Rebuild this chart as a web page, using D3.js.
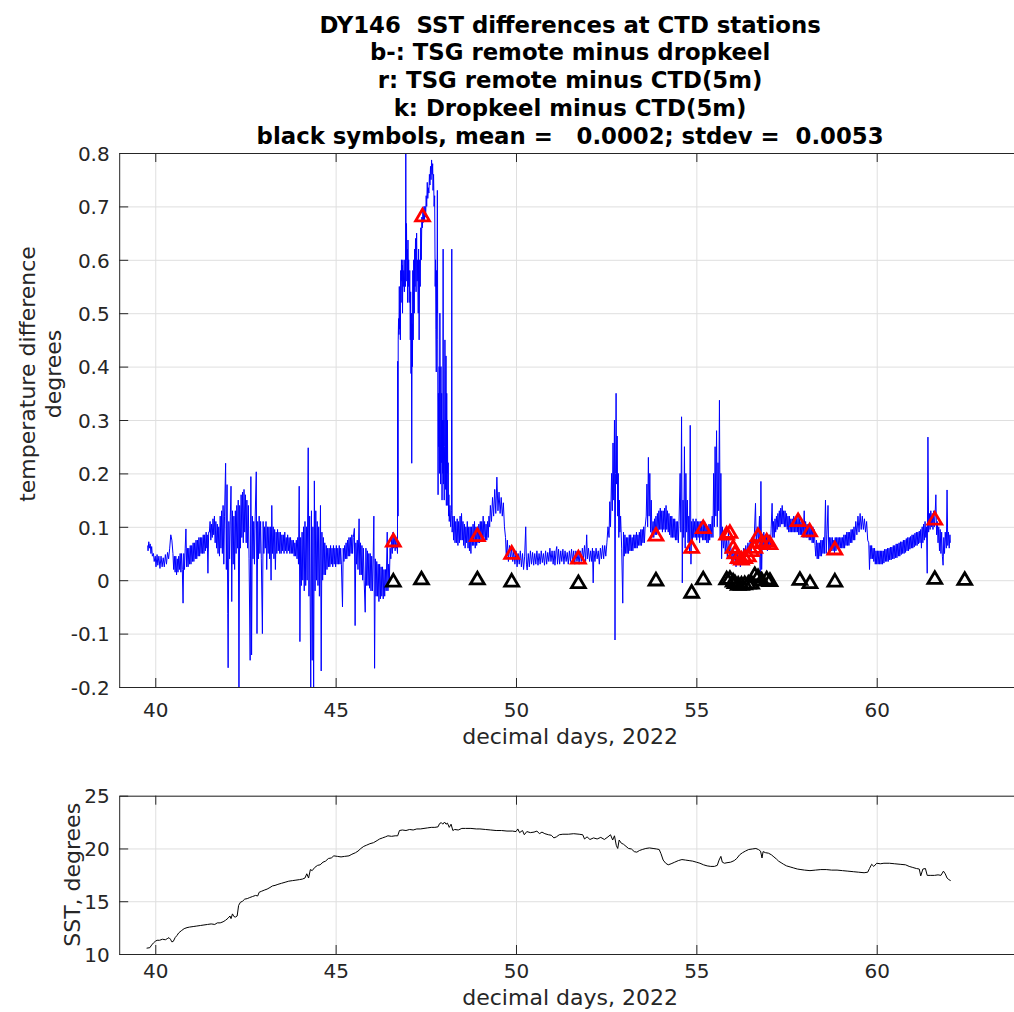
<!DOCTYPE html>
<html>
<head>
<meta charset="utf-8">
<script src="https://cdn.jsdelivr.net/npm/d3@7/dist/d3.min.js"></script>
<style>
  html, body { margin: 0; padding: 0; background: #fff; }
  svg { display: block; font-family: "DejaVu Sans", sans-serif; }
  text { white-space: pre; }
</style>
</head>
<body>
<svg id="chart" width="1014" height="1012"></svg>
<script>
// ---------------- DATA ----------------
const titleLines = [
  "DY146  SST differences at CTD stations",
  "b-: TSG remote minus dropkeel",
  "r: TSG remote minus CTD(5m)",
  "k: Dropkeel minus CTD(5m)",
  "black symbols, mean =   0.0002; stdev =  0.0053"
];
const xLabel = "decimal days, 2022";
const topYLabel = ["temperature difference", "degrees"];
const botYLabel = "SST, degrees";

const dayTicks = [40, 45, 50, 55, 60];
const diffTicks = [-0.2, -0.1, 0, 0.1, 0.2, 0.3, 0.4, 0.5, 0.6, 0.7, 0.8];
const sstTicks = [10, 15, 20, 25];

// b-: TSG remote minus dropkeel  [day, difference]
const tsgMinusDropkeel = [
[39.79,0.065],[39.80,0.055],[39.82,0.072],[39.84,0.06],[39.86,0.068],[39.88,0.05],[39.90,0.063],[39.92,0.045],[39.95,0.05],[39.97,0.035],
[40.00,0.045],[40.02,0.025],[40.05,0.048],[40.07,0.028],[40.10,0.045],[40.13,0.022],[40.16,0.045],[40.19,0.025],[40.22,0.042],[40.25,0.025],
[40.28,0.048],[40.31,0.03],[40.34,0.052],[40.37,0.04],[40.40,0.06],[40.43,0.085],[40.46,0.075],[40.49,0.05],
[40.51,0.02],[40.53,0.045],[40.55,0.015],[40.57,0.045],[40.59,0.01],[40.61,0.04],[40.63,0.015],[40.65,0.045],[40.67,0.02],[40.69,0.05],
[40.71,0.015],[40.73,0.05],[40.75,0.02],[40.77,-0.043],[40.79,0.05],[40.81,0.02],[40.83,0.06],[40.85,0.096],[40.87,0.025],[40.89,0.06],
[40.91,0.025],[40.93,0.06],[40.95,0.03],[40.97,0.065],[40.99,0.03],[41.01,0.065],[41.03,0.035],[41.05,0.07],[41.07,0.035],[41.09,0.07],
[41.11,0.04],[41.13,0.075],[41.15,0.04],[41.17,0.075],[41.19,0.045],[41.21,0.08],[41.23,0.045],[41.25,0.08],[41.27,0.05],[41.29,0.08],
[41.31,0.05],[41.33,0.085],[41.35,0.05],[41.37,0.085],[41.39,0.055],[41.41,0.09],[41.43,0.06],[41.44,0.085],[41.46,0.013],[41.48,0.09],
[41.50,0.09],[41.52,0.11],[41.54,0.075],[41.56,0.105],[41.58,0.08],[41.60,0.115],[41.62,0.085],[41.64,0.12],[41.66,0.07],[41.68,0.11],
[41.70,0.06],[41.72,0.105],[41.74,0.05],[41.76,0.10],[41.78,0.045],[41.80,0.12],[41.82,0.06],[41.84,0.13],[41.86,0.05],[41.88,0.14],
[41.90,0.03],[41.92,0.12],[41.95,0.219],[41.97,0.02],[41.99,0.179],[42.01,-0.062],[42.02,-0.164],[42.04,0.11],[42.06,0.04],[42.08,0.12],
[42.10,0.176],[42.12,-0.04],[42.14,0.13],[42.16,0.03],[42.18,0.12],[42.20,0.02],[42.22,0.13],[42.24,0.05],[42.26,0.14],[42.28,0.06],
[42.30,0.15],[42.32,-0.2],[42.34,0.14],[42.36,0.06],[42.38,0.16],[42.40,0.08],[42.42,0.165],[42.44,0.07],[42.46,0.17],[42.48,0.09],
[42.50,0.16],[42.52,0.07],[42.54,0.15],[42.56,0.06],[42.58,0.14],[42.60,0.04],[42.63,-0.15],[42.65,0.194],[42.67,-0.14],[42.69,0.12],
[42.71,0.04],[42.73,0.11],[42.75,0.03],[42.77,0.12],[42.80,0.203],[42.82,-0.10],[42.84,0.11],[42.86,0.04],[42.88,0.12],[42.90,0.05],
[42.92,0.11],[42.94,0.04],[42.97,-0.10],[42.99,0.11],[43.01,0.05],[43.03,0.10],[43.05,0.06],[43.07,0.11],[43.09,0.02],[43.11,0.10],
[43.13,0.05],[43.15,0.10],[43.17,0.04],[43.19,0.10],[43.21,0.0],[43.23,0.14],[43.25,0.05],[43.27,0.10],[43.29,0.04],[43.31,0.095],
[43.33,0.02],[43.35,0.09],[43.37,0.05],[43.39,0.095],[43.41,0.055],[43.43,0.09],[43.45,0.05],[43.47,0.09],[43.49,0.05],[43.51,0.085],
[43.53,0.055],[43.55,0.085],[43.57,0.05],[43.59,0.09],[43.61,0.055],[43.63,0.08],[43.65,0.05],[43.67,0.085],[43.69,0.055],[43.71,0.08],
[43.73,0.05],[43.75,0.08],[43.77,0.05],[43.79,0.075],[43.81,0.05],[43.83,0.075],[43.85,0.045],[43.87,0.07],[43.89,0.045],[43.91,0.075],
[43.93,0.04],[43.95,0.08],[43.97,0.03],[43.99,0.176],[44.01,-0.115],[44.03,0.08],[44.05,-0.01],[44.07,0.09],[44.09,0.0],[44.11,0.10],
[44.13,-0.02],[44.15,0.11],[44.17,-0.01],[44.19,0.10],[44.21,0.0],[44.24,0.248],[44.26,-0.03],[44.28,0.12],[44.31,-0.2],[44.33,0.13],
[44.35,-0.15],[44.37,0.10],[44.39,-0.2],[44.41,0.186],[44.43,-0.02],[44.45,0.13],[44.47,0.0],[44.49,0.11],[44.51,-0.01],[44.53,0.10],
[44.55,-0.03],[44.58,0.14],[44.60,-0.17],[44.62,0.09],[44.64,0.0],[44.66,0.08],[44.68,0.01],[44.70,0.07],[44.72,0.01],[44.74,0.065],
[44.76,0.02],[44.78,0.06],[44.80,0.025],[44.82,0.06],[44.84,0.025],[44.86,0.065],[44.88,0.03],[44.90,0.06],[44.92,0.025],[44.94,0.065],
[44.96,0.03],[44.98,0.06],[45.00,0.025],[45.02,0.065],[45.04,0.03],[45.06,0.06],[45.08,0.03],[45.10,0.065],[45.12,0.03],[45.14,0.06],
[45.16,0.03],[45.19,-0.05],[45.21,0.06],[45.23,0.035],[45.25,0.065],[45.27,0.04],[45.29,0.07],[45.31,0.04],[45.33,0.075],[45.35,0.045],
[45.37,0.08],[45.39,0.045],[45.41,0.08],[45.43,0.05],[45.45,0.085],[45.47,0.05],[45.49,0.08],[45.52,0.097],[45.54,-0.085],[45.56,0.07],
[45.58,0.03],[45.60,0.075],[45.62,0.02],[45.65,0.115],[45.67,0.01],[45.69,0.07],[45.71,0.01],[45.73,0.065],[45.75,0.0],[45.77,0.06],
[45.79,0.0],[45.82,-0.06],[45.84,0.06],[45.86,-0.01],[45.88,0.055],[45.90,-0.01],[45.92,0.05],[45.94,-0.015],[45.96,0.05],[45.98,-0.02],
[46.00,0.045],[46.02,-0.02],[46.04,0.04],[46.06,0.12],[46.08,-0.165],[46.10,0.04],[46.12,-0.03],[46.14,0.035],[46.16,-0.03],[46.18,0.03],
[46.20,-0.04],[46.22,0.03],[46.24,-0.035],[46.26,0.025],[46.28,-0.03],[46.30,0.025],[46.32,-0.035],[46.34,0.02],[46.36,-0.03],[46.38,0.02],
[46.40,-0.02],[46.43,0.09],[46.45,-0.02],[46.47,0.03],[46.49,0.0],[46.51,0.06],[46.53,0.04],[46.55,0.08],[46.57,0.05],[46.59,0.09],
[46.61,0.06],[46.63,0.085],[46.65,0.055],[46.67,0.08],[46.69,0.06],[46.70,0.065],[46.715,0.05],
[46.72,0.41],[46.73,0.12],[46.735,0.45],[46.745,0.49],[46.755,0.46],[46.765,0.55],[46.775,0.47],[46.785,0.50],[46.795,0.45],[46.805,0.58],
[46.815,0.52],[46.825,0.60],[46.835,0.56],[46.845,0.59],[46.855,0.50],[46.865,0.60],[46.875,0.55],[46.89,0.58],[46.905,0.54],[46.92,0.60],
[46.935,0.55],[46.945,0.802],[46.955,0.60],[46.965,0.668],[46.975,0.56],[46.985,0.62],[46.995,0.52],[47.005,0.637],[47.015,0.55],[47.025,0.60],
[47.04,0.52],[47.055,0.58],[47.07,0.45],[47.08,0.54],[47.09,0.387],[47.10,0.50],[47.11,0.219],[47.12,0.48],[47.13,0.40],[47.14,0.58],
[47.15,0.45],[47.165,0.60],[47.18,0.50],[47.19,0.62],[47.20,0.55],[47.215,0.64],[47.23,0.54],[47.245,0.65],[47.26,0.56],[47.275,0.60],
[47.29,0.50],[47.30,0.62],[47.315,0.45],[47.33,0.60],[47.345,0.55],[47.36,0.66],[47.375,0.60],[47.39,0.68],[47.405,0.66],[47.42,0.69],
[47.435,0.67],[47.45,0.70],[47.465,0.675],[47.48,0.70],[47.495,0.68],[47.51,0.72],[47.525,0.70],[47.54,0.745],[47.555,0.715],[47.57,0.735],
[47.585,0.725],[47.60,0.76],[47.615,0.74],[47.63,0.775],[47.645,0.75],[47.66,0.787],[47.675,0.76],[47.69,0.78],[47.70,0.73],[47.715,0.76],
[47.73,0.70],[47.745,0.72],[47.76,0.55],[47.77,0.60],[47.78,0.47],[47.79,0.39],[47.80,0.58],[47.81,0.50],[47.82,0.73],[47.83,0.45],
[47.84,0.16],[47.85,0.35],[47.86,0.25],[47.87,0.40],[47.88,0.20],[47.89,0.50],[47.90,0.30],[47.91,0.18],[47.92,0.40],[47.93,0.22],
[47.94,0.35],[47.95,0.15],[47.96,0.30],[47.97,0.20],[47.98,0.62],[47.99,0.18],[48.00,0.30],[48.01,0.15],[48.02,0.25],[48.03,0.45],
[48.04,0.30],[48.05,0.17],[48.06,0.42],[48.07,0.14],[48.08,0.35],[48.09,0.20],[48.10,0.30],[48.11,0.14],[48.12,0.22],[48.13,0.12],
[48.14,0.16],[48.15,0.11],[48.17,0.14],[48.19,0.10],[48.21,0.13],[48.22,0.62],[48.23,0.09],[48.25,0.12],[48.27,0.075],[48.29,0.12],
[48.31,0.07],[48.33,0.11],[48.35,0.07],[48.37,0.115],[48.39,0.065],[48.41,0.11],[48.43,0.07],[48.45,0.12],[48.47,0.075],[48.49,0.125],
[48.51,0.075],[48.53,0.11],[48.55,0.065],[48.57,0.105],[48.59,0.06],[48.61,0.10],[48.63,0.07],[48.65,0.11],[48.67,0.06],[48.69,0.10],
[48.71,0.055],[48.73,0.10],[48.75,0.05],[48.77,0.10],[48.79,0.065],[48.81,0.105],[48.83,0.065],[48.85,0.11],[48.87,0.06],[48.89,0.10],
[48.91,0.065],[48.93,0.10],[48.95,0.07],[48.97,0.105],[48.99,0.07],[49.01,0.11],[49.03,0.075],[49.05,0.11],[49.07,0.08],[49.09,0.12],
[49.11,0.08],[49.13,0.11],[49.15,0.075],[49.17,0.105],[49.19,0.075],[49.21,0.11],[49.23,0.08],[49.25,0.12],[49.27,0.10],[49.29,0.14],
[49.32,0.11],[49.35,0.155],[49.38,0.12],[49.41,0.17],[49.44,0.125],[49.47,0.193],[49.50,0.13],[49.53,0.165],[49.56,0.125],[49.59,0.155],
[49.62,0.12],[49.65,0.145],[49.68,0.10],[49.71,0.08],[49.73,0.045],[49.76,0.075],[49.79,0.035],[49.82,0.065],[49.85,0.04],[49.88,0.06],
[49.91,0.035],[49.94,0.055],[49.97,0.03],[50.00,0.055],[50.03,0.025],[50.06,0.05],[50.09,0.03],[50.12,0.055],[50.15,0.025],[50.18,0.05],
[50.21,0.02],[50.24,0.045],[50.27,0.10],[50.29,0.03],[50.31,0.019],[50.34,0.05],[50.37,0.025],[50.40,0.055],[50.43,0.03],[50.46,0.052],
[50.49,0.028],[50.52,0.05],[50.55,0.03],[50.58,0.055],[50.61,0.028],[50.64,0.05],[50.67,0.03],[50.70,0.055],[50.73,0.033],[50.76,0.05],
[50.79,0.028],[50.82,0.055],[50.85,0.03],[50.88,0.052],[50.91,0.035],[50.94,0.06],[50.97,0.035],[51.00,0.055],[51.03,0.03],[51.06,0.055],
[51.08,0.028],[51.11,0.055],[51.13,0.063],[51.15,0.03],[51.18,0.058],[51.21,0.03],[51.24,0.055],[51.27,0.035],[51.30,0.058],[51.33,0.03],
[51.36,0.055],[51.39,0.035],[51.42,0.052],[51.45,0.03],[51.48,0.055],[51.51,0.035],[51.54,0.058],[51.57,0.035],[51.60,0.055],[51.63,0.03],
[51.66,0.055],[51.69,0.035],[51.72,0.05],[51.75,0.03],[51.78,0.055],[51.81,0.035],[51.84,0.06],[51.87,0.04],[51.90,0.065],[51.93,0.035],
[51.96,0.085],[51.98,0.04],[52.01,0.06],[52.04,0.035],[52.07,0.055],[52.10,0.035],[52.12,0.06],[52.14,-0.005],[52.16,0.055],[52.19,0.035],
[52.22,0.06],[52.25,0.04],[52.28,0.055],[52.31,0.03],[52.34,0.06],[52.37,0.04],[52.40,0.065],[52.43,0.04],[52.46,0.065],[52.49,0.045],
[52.52,0.07],[52.55,0.10],[52.58,0.08],[52.60,0.147],[52.62,0.10],[52.65,0.20],[52.67,0.13],[52.69,0.257],[52.71,0.15],[52.73,0.30],
[52.745,-0.112],[52.76,0.20],[52.775,0.35],[52.79,0.18],[52.805,0.27],[52.82,0.12],[52.835,0.20],[52.85,0.08],[52.865,0.15],[52.88,0.09],
[52.90,0.12],[52.93,0.06],[52.96,-0.043],[52.98,0.09],[53.00,0.045],[53.02,0.085],[53.04,0.05],[53.06,0.08],[53.08,0.05],[53.10,0.08],
[53.12,0.05],[53.14,0.085],[53.16,0.055],[53.18,0.085],[53.20,0.055],[53.22,0.08],[53.24,0.055],[53.26,0.085],[53.28,0.06],[53.30,0.085],
[53.32,0.06],[53.34,0.09],[53.36,0.06],[53.38,0.085],[53.40,0.065],[53.42,0.09],[53.44,0.065],[53.46,0.095],[53.48,0.065],[53.50,0.095],
[53.52,0.07],[53.54,0.10],[53.56,0.07],[53.58,0.10],[53.61,0.12],[53.63,0.18],[53.65,0.10],[53.67,0.23],[53.69,0.12],[53.71,0.20],
[53.73,0.09],[53.75,0.15],[53.77,0.08],[53.80,0.11],[53.82,0.08],[53.84,0.115],[53.86,0.085],[53.88,0.12],[53.90,0.085],[53.92,0.125],
[53.94,0.09],[53.96,0.13],[53.98,0.095],[54.00,0.135],[54.02,0.095],[54.04,0.13],[54.06,0.09],[54.08,0.13],[54.10,0.095],[54.12,0.135],
[54.14,0.09],[54.16,0.14],[54.18,0.095],[54.20,0.13],[54.22,0.09],[54.24,0.125],[54.26,0.085],[54.28,0.12],[54.30,0.08],[54.32,0.12],
[54.34,0.08],[54.36,0.115],[54.38,0.08],[54.40,0.115],[54.42,0.075],[54.44,0.11],[54.46,0.075],[54.48,0.11],[54.50,0.07],[54.52,0.11],
[54.55,0.20],[54.57,0.09],[54.59,0.306],[54.61,-0.005],[54.63,0.15],[54.65,0.08],[54.67,0.25],[54.69,0.06],[54.71,0.20],[54.73,0.09],
[54.75,0.15],[54.77,0.07],[54.79,0.12],[54.81,0.05],[54.83,0.29],[54.85,0.03],[54.87,0.11],[54.89,0.075],[54.91,0.115],[54.93,0.08],
[54.95,0.11],[54.97,0.08],[54.99,0.115],[55.01,0.075],[55.03,0.11],[55.05,0.08],[55.07,0.11],[55.09,0.07],[55.11,0.11],[55.13,0.08],
[55.15,0.11],[55.17,0.075],[55.19,0.105],[55.21,0.075],[55.23,0.11],[55.25,0.075],[55.27,0.105],[55.29,0.07],[55.31,0.10],[55.33,0.07],
[55.35,0.105],[55.37,0.075],[55.39,0.105],[55.41,0.08],[55.44,0.12],[55.46,0.08],[55.48,0.20],[55.50,0.10],[55.52,0.25],[55.54,0.12],
[55.56,0.28],[55.58,0.10],[55.60,0.22],[55.62,0.13],[55.64,0.337],[55.66,0.08],[55.68,0.20],[55.70,0.04],[55.72,0.10],[55.75,0.06],
[55.78,0.09],[55.80,0.05],[55.83,0.08],[55.86,0.04],[55.89,0.09],[55.92,0.05],[55.95,0.07],[55.98,0.03],[56.01,0.06],[56.04,0.035],
[56.07,0.055],[56.10,0.025],[56.13,0.05],[56.16,0.03],[56.19,0.055],[56.22,0.025],[56.25,0.05],[56.28,0.035],[56.31,0.06],[56.34,0.04],
[56.37,0.065],[56.40,0.045],[56.43,0.07],[56.46,0.05],[56.49,0.075],[56.52,0.055],[56.55,0.08],[56.58,0.06],[56.61,0.09],[56.64,0.144],
[56.66,0.07],[56.69,0.10],[56.72,0.07],[56.75,0.12],[56.77,0.0],[56.79,0.185],[56.81,0.02],[56.83,0.085],[56.85,0.06],[56.87,0.09],
[56.89,0.06],[56.91,0.085],[56.93,0.06],[56.95,0.085],[56.97,0.055],[56.99,0.085],[57.01,0.06],[57.03,0.085],[57.05,0.06],[57.07,0.09],
[57.10,0.144],[57.12,0.08],[57.14,0.11],[57.16,0.08],[57.18,0.115],[57.20,0.09],[57.22,0.12],[57.24,0.095],[57.26,0.125],[57.28,0.10],
[57.30,0.13],[57.32,0.10],[57.34,0.135],[57.36,0.105],[57.38,0.14],[57.40,0.105],[57.42,0.13],[57.44,0.10],[57.46,0.13],[57.48,0.10],
[57.50,0.125],[57.52,0.095],[57.54,0.12],[57.56,0.09],[57.58,0.12],[57.60,0.09],[57.62,0.115],[57.64,0.09],[57.66,0.115],[57.68,0.09],
[57.70,0.12],[57.72,0.09],[57.74,0.115],[57.76,0.09],[57.78,0.115],[57.80,0.09],[57.82,0.12],[57.84,0.085],[57.86,0.115],[57.88,0.085],
[57.90,0.11],[57.92,0.085],[57.94,0.11],[57.96,0.08],[57.99,0.13],[58.01,0.08],[58.03,0.11],[58.05,0.08],[58.07,0.105],[58.09,0.08],
[58.11,0.105],[58.13,0.075],[58.15,0.105],[58.17,0.075],[58.19,0.10],[58.21,0.07],[58.23,0.10],[58.25,0.07],[58.27,0.095],[58.29,0.065],
[58.31,0.045],[58.33,0.075],[58.35,0.04],[58.37,0.07],[58.39,0.04],[58.41,0.07],[58.43,0.045],[58.45,0.075],[58.47,0.045],[58.49,0.075],
[58.51,0.05],[58.53,0.08],[58.55,0.05],[58.58,0.15],[58.60,0.05],[58.62,0.085],[58.65,0.14],[58.67,0.05],[58.69,0.08],[58.71,0.055],
[58.73,0.08],[58.75,0.055],[58.77,0.08],[58.79,0.055],[58.81,0.075],[58.83,0.05],[58.85,0.08],[58.87,0.055],[58.89,0.08],[58.91,0.06],
[58.93,0.08],[58.95,0.06],[58.97,0.08],[58.99,0.06],[59.01,0.08],[59.03,0.06],[59.05,0.08],[59.07,0.06],[59.09,0.085],[59.11,0.06],
[59.13,0.085],[59.15,0.065],[59.17,0.09],[59.19,0.065],[59.21,0.09],[59.23,0.065],[59.25,0.09],[59.27,0.07],[59.29,0.095],[59.31,0.07],
[59.33,0.095],[59.35,0.075],[59.37,0.10],[59.39,0.075],[59.42,0.11],[59.45,0.085],[59.48,0.12],[59.51,0.09],[59.54,0.125],[59.57,0.095],
[59.60,0.12],[59.63,0.095],[59.66,0.115],[59.69,0.09],[59.72,0.11],[59.75,0.075],[59.78,0.07],[59.80,0.02],[59.82,0.065],[59.84,0.04],
[59.86,0.065],[59.88,0.04],[59.90,0.06],[59.92,0.035],[59.94,0.06],[59.96,0.03],[59.98,0.055],[60.00,0.03],[60.02,0.055],[60.04,0.03],
[60.06,0.055],[60.08,0.03],[60.10,0.055],[60.12,0.03],[60.14,0.055],[60.16,0.03],[60.18,0.055],[60.20,0.032],[60.22,0.058],[60.24,0.035],
[60.26,0.058],[60.28,0.035],[60.30,0.06],[60.32,0.035],[60.34,0.06],[60.36,0.038],[60.38,0.062],[60.40,0.038],[60.42,0.062],[60.44,0.04],
[60.46,0.065],[60.48,0.04],[60.50,0.065],[60.52,0.042],[60.54,0.068],[60.56,0.042],[60.58,0.068],[60.60,0.045],[60.62,0.07],[60.64,0.045],
[60.66,0.072],[60.68,0.048],[60.70,0.072],[60.72,0.05],[60.74,0.075],[60.76,0.05],[60.78,0.075],[60.80,0.052],[60.82,0.078],[60.84,0.055],
[60.86,0.08],[60.88,0.055],[60.90,0.08],[60.92,0.058],[60.94,0.082],[60.96,0.06],[60.98,0.085],[61.00,0.06],[61.02,0.085],[61.04,0.062],
[61.06,0.088],[61.08,0.065],[61.10,0.09],[61.12,0.065],[61.14,0.09],[61.16,0.068],[61.18,0.092],[61.20,0.07],[61.22,0.095],[61.24,0.06],
[61.26,0.10],[61.28,0.07],[61.30,0.105],[61.32,0.075],[61.34,0.11],[61.36,0.08],[61.38,0.10],[61.40,0.013],[61.42,0.268],[61.44,0.09],
[61.46,0.125],[61.48,0.095],[61.50,0.13],[61.52,0.10],[61.54,0.125],[61.56,0.095],[61.58,0.13],[61.60,0.10],[61.62,0.125],[61.64,0.16],
[61.66,0.085],[61.68,0.11],[61.70,0.07],[61.72,0.10],[61.74,0.055],[61.76,0.095],[61.78,0.05],[61.80,0.09],[61.82,0.045],[61.84,0.028],
[61.86,0.08],[61.88,0.05],[61.90,0.09],[61.93,0.06],[61.95,0.169],[61.97,0.065],[61.99,0.09],[62.01,0.06],[62.03,0.085],[62.04,0.07]
];

// r^: TSG remote minus CTD(5m)  [day, difference]
const tsgMinusCtd = [
[46.60,0.075],[47.41,0.684],[48.93,0.085],[49.88,0.052],[51.73,0.043],[53.88,0.086],[54.87,0.063],[55.19,0.100],
[55.84,0.088],[55.93,0.091],[56.02,0.063],[56.07,0.053],[56.16,0.044],[56.25,0.041],[56.34,0.044],[56.44,0.047],
[56.53,0.057],[56.62,0.063],[56.71,0.085],[56.81,0.072],[56.95,0.075],[57.04,0.070],
[57.82,0.113],[58.14,0.094],[58.84,0.060],[61.61,0.116]
];

// k^: Dropkeel minus CTD(5m)  [day, difference]
const dropkeelMinusCtd = [
[46.60,0.000],[47.38,0.004],[48.93,0.004],[49.88,0.000],[51.73,-0.003],[53.88,0.002],[54.87,-0.021],[55.19,0.004],
[55.84,0.004],[55.93,0.005],[56.02,0.000],[56.07,-0.003],[56.16,-0.006],[56.25,-0.006],[56.34,-0.005],[56.44,-0.004],
[56.53,-0.004],[56.62,0.012],[56.71,0.008],[56.81,0.002],[56.95,0.004],[57.04,0.001],
[57.87,0.003],[58.15,-0.003],[58.84,0.000],[61.61,0.005],[62.44,0.003]
];

// lower panel: SST [day, degrees]
const sst = [
[39.76,10.55],[39.85,10.6],[39.9,10.85],[39.95,11.05],[40.0,11.2],[40.05,11.3],[40.12,11.3],[40.2,11.4],[40.28,11.35],[40.33,11.45],
[40.38,11.55],[40.42,11.4],[40.46,11.15],[40.5,11.2],[40.55,11.55],[40.6,11.75],[40.65,12.0],[40.72,12.2],[40.8,12.4],[40.88,12.5],
[40.95,12.55],[41.05,12.6],[41.15,12.65],[41.25,12.7],[41.35,12.75],[41.45,12.8],[41.55,12.85],[41.65,12.8],[41.72,12.95],[41.8,12.95],
[41.88,13.05],[41.95,13.2],[42.02,13.4],[42.07,13.6],[42.1,13.35],[42.14,13.8],[42.18,13.55],[42.22,13.5],[42.27,13.6],[42.31,14.6],
[42.36,14.9],[42.42,15.0],[42.48,15.2],[42.55,15.25],[42.62,15.35],[42.7,15.45],[42.78,15.55],[42.84,15.5],[42.88,15.85],[42.95,15.95],
[43.02,16.05],[43.1,16.15],[43.18,16.3],[43.25,16.45],[43.32,16.5],[43.4,16.6],[43.5,16.7],[43.6,16.8],[43.7,16.9],[43.8,16.95],
[43.9,17.0],[44.0,17.05],[44.08,17.1],[44.15,17.2],[44.2,17.6],[44.25,17.2],[44.3,18.0],[44.35,17.9],[44.42,18.2],[44.5,18.4],
[44.57,18.45],[44.65,18.7],[44.72,18.8],[44.8,19.05],[44.88,19.1],[44.95,19.3],[45.05,19.25],[45.15,19.2],[45.25,19.25],[45.37,19.3],
[45.45,19.45],[45.55,19.6],[45.62,19.75],[45.7,20.0],[45.78,20.2],[45.85,20.3],[45.95,20.45],[46.05,20.55],[46.15,20.75],[46.22,20.9],
[46.3,21.0],[46.38,21.1],[46.45,21.2],[46.55,21.15],[46.65,21.2],[46.72,21.2],[46.77,21.7],[46.85,21.75],[46.95,21.7],[47.05,21.8],
[47.15,21.75],[47.25,21.85],[47.35,21.85],[47.45,21.9],[47.55,21.95],[47.65,22.0],[47.75,22.0],[47.84,22.05],[47.88,22.35],[47.93,22.45],
[47.97,22.3],[48.02,22.5],[48.06,22.3],[48.1,22.4],[48.15,22.0],[48.2,22.3],[48.25,21.7],[48.3,21.8],[48.4,21.75],[48.5,21.9],
[48.6,21.9],[48.75,21.9],[48.9,21.85],[49.0,21.85],[49.15,21.8],[49.3,21.75],[49.45,21.7],[49.6,21.7],[49.75,21.65],[49.9,21.65],
[50.0,21.6],[50.05,21.85],[50.1,21.5],[50.18,21.7],[50.23,21.3],[50.3,21.6],[50.4,21.5],[50.5,21.55],[50.58,21.65],[50.65,21.4],
[50.72,21.55],[50.8,21.4],[50.9,21.3],[50.98,21.25],[51.05,21.0],[51.12,21.1],[51.2,21.3],[51.3,21.35],[51.45,21.35],[51.6,21.4],
[51.75,21.35],[51.85,21.3],[51.9,20.9],[51.97,21.1],[52.05,20.85],[52.15,21.0],[52.25,20.9],[52.35,21.05],[52.45,20.85],[52.55,21.1],
[52.62,21.3],[52.68,20.8],[52.73,21.2],[52.78,20.3],[52.82,20.0],[52.86,20.8],[52.92,20.5],[52.98,20.4],[53.05,20.2],[53.12,20.0],
[53.2,19.95],[53.28,19.7],[53.35,19.65],[53.42,19.8],[53.5,19.9],[53.6,20.0],[53.7,20.05],[53.8,20.0],[53.9,19.95],[53.97,19.9],
[54.02,19.5],[54.08,18.9],[54.15,18.6],[54.22,18.45],[54.3,18.55],[54.4,18.7],[54.5,18.85],[54.6,18.95],[54.7,18.9],[54.8,18.85],
[54.9,18.8],[55.0,18.7],[55.1,18.6],[55.2,18.45],[55.3,18.35],[55.4,18.3],[55.5,18.3],[55.58,18.4],[55.63,18.9],[55.68,19.25],
[55.72,18.7],[55.78,18.6],[55.85,18.65],[55.95,18.7],[56.05,18.85],[56.12,19.05],[56.2,19.4],[56.28,19.6],[56.36,19.75],[56.45,19.9],
[56.55,19.95],[56.65,20.0],[56.72,19.9],[56.78,19.75],[56.82,19.1],[56.85,19.7],[56.92,19.6],[57.0,19.55],[57.08,19.4],[57.15,19.2],
[57.22,19.0],[57.28,18.8],[57.35,18.65],[57.42,18.5],[57.5,18.35],[57.6,18.25],[57.7,18.15],[57.8,18.05],[57.9,18.0],[58.0,17.95],
[58.15,17.9],[58.3,17.95],[58.45,18.0],[58.6,18.0],[58.75,17.95],[58.9,17.95],[59.05,17.9],[59.2,17.85],[59.35,17.8],[59.5,17.75],
[59.65,17.7],[59.75,17.75],[59.8,18.1],[59.86,18.5],[59.92,18.3],[60.0,18.6],[60.1,18.55],[60.2,18.6],[60.35,18.6],[60.5,18.55],
[60.65,18.5],[60.8,18.45],[60.9,18.3],[61.0,18.2],[61.1,18.1],[61.18,18.05],[61.22,17.4],[61.28,18.05],[61.35,18.1],[61.4,17.45],
[61.5,17.45],[61.6,17.45],[61.7,17.5],[61.78,17.45],[61.85,17.85],[61.9,17.6],[61.95,17.2],[62.0,17.05],[62.05,16.95]
];

// ---------------- LAYOUT ----------------
const svg = d3.select("#chart");
const L = 119.2, R = 1021;
const topBox = { top: 153, bottom: 687 };
const botBox = { top: 795.7, bottom: 954 };
const axisColor = "#262626";
const gridColor = "#dfdfdf";

const x = d3.scaleLinear().domain([39, 64]).range([L, R]);
const yTop = d3.scaleLinear().domain([-0.2, 0.8]).range([topBox.bottom, topBox.top]);
const yBot = d3.scaleLinear().domain([10, 25]).range([botBox.bottom, botBox.top]);

const defs = svg.append("defs");
defs.append("clipPath").attr("id", "clipTop").append("rect")
  .attr("x", L).attr("y", topBox.top).attr("width", R - L).attr("height", topBox.bottom - topBox.top);
defs.append("clipPath").attr("id", "clipBot").append("rect")
  .attr("x", L).attr("y", botBox.top).attr("width", R - L).attr("height", botBox.bottom - botBox.top);

// matlab-like '^' marker
const triUp = {
  draw(ctx, size) {
    const r = Math.sqrt(size) / 2;
    ctx.moveTo(0, -r * 0.85);
    ctx.lineTo(r, r * 0.85);
    ctx.lineTo(-r, r * 0.85);
    ctx.closePath();
  }
};

function drawGrid(box, yScale, yTicks) {
  const h = box.bottom - box.top;
  const gg = svg.append("g");
  gg.append("g").attr("transform", `translate(0,${box.bottom})`)
    .call(d3.axisBottom(x).tickValues(dayTicks).tickSize(-h).tickFormat(""))
    .call(g => g.select(".domain").remove())
    .call(g => g.selectAll("line").attr("stroke", gridColor).attr("stroke-width", 1));
  gg.append("g").attr("transform", `translate(${L},0)`)
    .call(d3.axisLeft(yScale).tickValues(yTicks).tickSize(-(R - L)).tickFormat(""))
    .call(g => g.select(".domain").remove())
    .call(g => g.selectAll("line").attr("stroke", gridColor).attr("stroke-width", 1));
}

function drawAxes(box, yScale, yTicks, yFmt, xTickBaseline) {
  const ax = svg.append("g");
  const gx = ax.append("g").attr("transform", `translate(0,${box.bottom})`)
    .call(d3.axisBottom(x).tickValues(dayTicks).tickSize(-9).tickSizeOuter(0).tickFormat(d3.format("d")));
  gx.selectAll("text").attr("y", xTickBaseline - box.bottom).attr("dy", null);
  ax.append("g").attr("transform", `translate(0,${box.top})`)
    .call(d3.axisTop(x).tickValues(dayTicks).tickSize(-9).tickSizeOuter(0).tickFormat(""));
  const gy = ax.append("g").attr("transform", `translate(${L},0)`)
    .call(d3.axisLeft(yScale).tickValues(yTicks).tickSize(-9).tickSizeOuter(0).tickFormat(yFmt).tickPadding(9.5));
  gy.selectAll("text").attr("dy", "0.36em");
  ax.selectAll(".domain").attr("stroke", axisColor).attr("stroke-width", 1);
  ax.selectAll(".tick line").attr("stroke", axisColor).attr("stroke-width", 1);
  ax.selectAll("text").attr("fill", axisColor).style("font-size", "20px")
    .style("font-family", "'DejaVu Sans', sans-serif");
}

// ---------------- TOP PANEL ----------------
drawGrid(topBox, yTop, diffTicks);

svg.append("path")
  .datum(tsgMinusDropkeel)
  .attr("clip-path", "url(#clipTop)")
  .attr("fill", "none")
  .attr("stroke", "#0000ff")
  .attr("stroke-width", 1)
  .attr("stroke-linejoin", "round")
  .attr("d", d3.line().x(d => x(d[0])).y(d => yTop(d[1])));

const sym = d3.symbol().type(triUp).size(190);
svg.append("g").attr("clip-path", "url(#clipTop)")
  .selectAll("path").data(tsgMinusCtd).join("path")
  .attr("transform", d => `translate(${x(d[0])},${yTop(d[1])})`)
  .attr("d", sym)
  .attr("fill", "none").attr("stroke", "#ff0000").attr("stroke-width", 2.8);
svg.append("g").attr("clip-path", "url(#clipTop)")
  .selectAll("path").data(dropkeelMinusCtd).join("path")
  .attr("transform", d => `translate(${x(d[0])},${yTop(d[1])})`)
  .attr("d", sym)
  .attr("fill", "none").attr("stroke", "#000000").attr("stroke-width", 2.8);

const fmtDiff = d => (Math.abs(d) < 1e-9 ? "0" : d.toFixed(1));
drawAxes(topBox, yTop, diffTicks, fmtDiff, 716.5);

// title
const cx = (L + R) / 2;
svg.append("g").selectAll("text").data(titleLines).join("text")
  .attr("x", cx)
  .attr("y", (d, i) => 32.5 + i * 27.8)
  .attr("text-anchor", "middle")
  .style("font-family", "'DejaVu Sans', sans-serif")
  .style("font-weight", "bold")
  .style("font-size", "22.8px")
  .attr("fill", "#000")
  .text(d => d);

const labelStyle = sel => sel.style("font-family", "'DejaVu Sans', sans-serif")
  .style("font-size", "22px").attr("fill", axisColor);

svg.append("text").attr("x", cx).attr("y", 744).attr("text-anchor", "middle")
  .call(labelStyle).text(xLabel);

const yLabelMid = 374;
svg.append("g").selectAll("text").data(topYLabel).join("text")
  .attr("transform", (d, i) => `translate(${[35, 61][i]},${yLabelMid}) rotate(-90)`)
  .attr("text-anchor", "middle")
  .call(labelStyle).text(d => d);

// ---------------- BOTTOM PANEL ----------------
drawGrid(botBox, yBot, sstTicks);

svg.append("path")
  .datum(sst)
  .attr("clip-path", "url(#clipBot)")
  .attr("fill", "none")
  .attr("stroke", "#000")
  .attr("stroke-width", 1)
  .attr("d", d3.line().x(d => x(d[0])).y(d => yBot(d[1])));

drawAxes(botBox, yBot, sstTicks, d3.format("d"), 977.5);

svg.append("text").attr("x", cx).attr("y", 1004.5).attr("text-anchor", "middle")
  .call(labelStyle).text(xLabel);

const midBot = (botBox.top + botBox.bottom) / 2;
svg.append("text")
  .attr("transform", `translate(80,${midBot}) rotate(-90)`)
  .attr("text-anchor", "middle")
  .call(labelStyle).text(botYLabel);
</script>
</body>
</html>
